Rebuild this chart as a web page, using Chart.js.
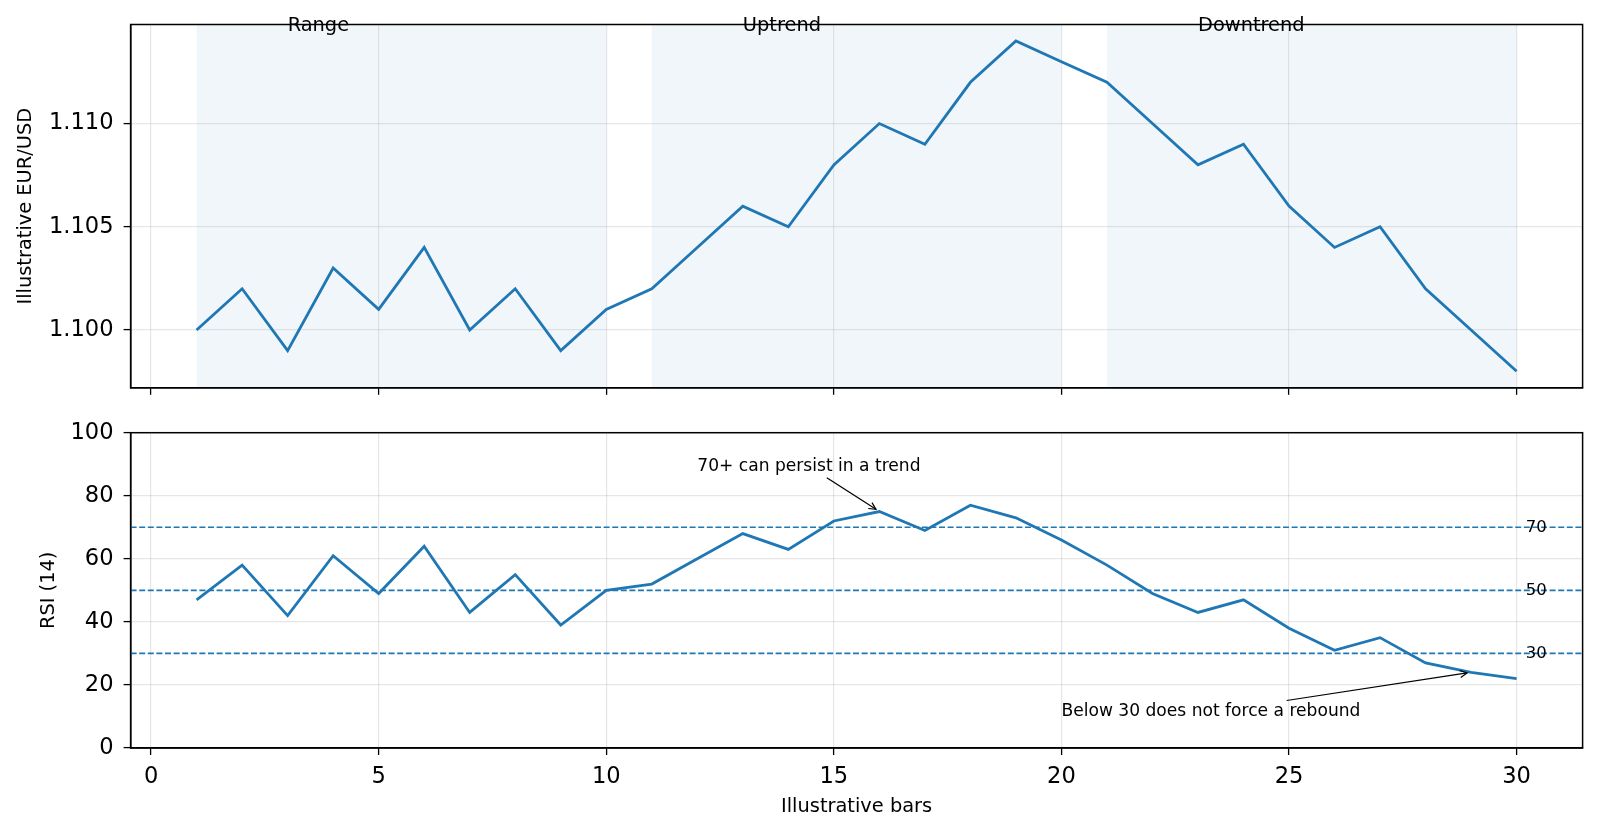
<!DOCTYPE html>
<html>
<head>
<meta charset="utf-8">
<script src="https://cdn.jsdelivr.net/npm/chart.js@4.4.1/dist/chart.umd.min.js"></script>
<style>
  html, body { margin: 0; padding: 0; background: #fff; }
  #wrap { position: relative; width: 1600px; height: 834px; }
  .panel { position: absolute; left: 0; width: 1600px; }
  #price-panel { top: 0; height: 414px; }
  #rsi-panel { top: 414px; height: 420px; }
</style>
</head>
<body>
<div id="wrap">
  <div class="panel" id="price-panel"><canvas id="price-canvas"></canvas></div>
  <div class="panel" id="rsi-panel"><canvas id="rsi-canvas"></canvas></div>
</div>
<script>
// dados ilustrativos
const BARS = [1, 2, 3, 4, 5, 6, 7, 8, 9, 10, 11, 12, 13, 14, 15, 16, 17, 18, 19, 20, 21, 22, 23, 24, 25, 26, 27, 28, 29, 30];
const PRICE = [1.100, 1.102, 1.099, 1.103, 1.101, 1.104, 1.100, 1.102, 1.099, 1.101,
               1.102, 1.104, 1.106, 1.105, 1.108, 1.110, 1.109, 1.112, 1.114, 1.113,
               1.112, 1.110, 1.108, 1.109, 1.106, 1.104, 1.105, 1.102, 1.100, 1.098];
const RSI = [47, 58, 42, 61, 49, 64, 43, 55, 39, 50,
             52, 60, 68, 63, 72, 75, 69, 77, 73, 66,
             58, 49, 43, 47, 38, 31, 35, 27, 24, 22];

const REGIME_LABELS = ['Range', 'Uptrend', 'Downtrend'];
const REGIME_START = [1, 11, 21];
const REGIME_END = [10, 20, 30];

const RSI_LEVELS = [70, 50, 30];
const X_TICKS = [0, 5, 10, 15, 20, 25, 30];
const PRICE_TICKS = [1.100, 1.105, 1.110];
const RSI_TICKS = [0, 20, 40, 60, 80, 100];

const NOTES = ['70+ can persist in a trend', 'Below 30 does not force a rebound'];
const NOTE_XY = [[16, 75], [29, 24]];
const NOTE_TEXT_XY = [[12, 88], [20, 10]];

const BLUE = '#1f77b4';
const FONT = '"DejaVu Sans", sans-serif';
const GRID = 'rgba(176,176,176,0.32)';
const AXIS_W = 130.6;
const TICK_FS = 22.6;
const LABEL_FS = 19.4;

Chart.defaults.font.family = FONT;
Chart.defaults.color = '#000';

// margens de 5% como no matplotlib
function comMargem(vals) {
  const lo = Math.min(...vals), hi = Math.max(...vals);
  const pad = (hi - lo) * 0.05;
  return [lo - pad, hi + pad];
}
const [X_MIN, X_MAX] = comMargem(BARS);
const [P_MIN, P_MAX] = comMargem(PRICE);

// zera o padding que os rotulos pedem, a area do grafico fica so com layout.padding
function semPadding(s) {
  s.paddingTop = 0; s.paddingBottom = 0; s.paddingLeft = 0; s.paddingRight = 0;
}

function eixoX(hideLabels, altura) {
  return {
    type: 'linear', min: X_MIN, max: X_MAX,
    afterBuildTicks: s => { s.ticks = X_TICKS.map(v => ({ value: v })); },
    afterFit: s => { s.height = altura; semPadding(s); },
    grid: { color: GRID, lineWidth: 1.2, drawTicks: true, tickLength: 7, tickColor: '#000', tickWidth: 1.3 },
    border: { display: true, color: '#000', width: 1.5 },
    ticks: { display: !hideLabels, font: { size: TICK_FS }, padding: 9, maxRotation: 0 }
  };
}

function eixoY(min, max, valores, fmt, titulo, tituloPad) {
  return {
    type: 'linear', min, max,
    afterBuildTicks: s => { s.ticks = valores.map(v => ({ value: v })); },
    afterFit: s => { s.width = AXIS_W; semPadding(s); },
    grid: { color: GRID, lineWidth: 1.2, tickLength: 7, tickColor: '#000', tickWidth: 1.3 },
    border: { display: true, color: '#000', width: 1.5 },
    ticks: { font: { size: TICK_FS }, padding: 10, callback: fmt },
    title: { display: true, text: titulo, font: { size: LABEL_FS }, padding: { top: tituloPad, bottom: 0 } }
  };
}

const framePlugin = {
  id: 'frame',
  afterDatasetsDraw(chart) {
    const { ctx, chartArea: a } = chart;
    ctx.save();
    ctx.strokeStyle = '#000';
    ctx.lineWidth = 1.5;
    ctx.strokeRect(a.left, a.top, a.right - a.left, a.bottom - a.top);
    ctx.restore();
  }
};

const regimesPlugin = {
  id: 'regimes',
  beforeDraw(chart) {
    const { ctx, chartArea: a, scales: { x } } = chart;
    ctx.save();
    ctx.fillStyle = 'rgba(31,119,180,0.065)';
    REGIME_START.forEach((ini, i) => {
      const x0 = x.getPixelForValue(ini), x1 = x.getPixelForValue(REGIME_END[i]);
      ctx.fillRect(x0, a.top, x1 - x0, a.bottom - a.top);
    });
    ctx.restore();
  },
  afterDraw(chart) {
    const { ctx, chartArea: a, scales: { x } } = chart;
    ctx.save();
    ctx.font = LABEL_FS + 'px ' + FONT;
    ctx.fillStyle = '#000';
    ctx.textBaseline = 'alphabetic';
    ctx.textAlign = 'left';
    REGIME_START.forEach((ini, i) => {
      ctx.fillText(REGIME_LABELS[i], x.getPixelForValue(ini + 2), a.top + 6.5);
    });
    ctx.restore();
  }
};

function seta(ctx, x0, y0, x1, y1) {
  const ang = Math.atan2(y1 - y0, x1 - x0);
  const hl = 7, hw = 3.5;
  ctx.beginPath(); ctx.moveTo(x0, y0); ctx.lineTo(x1, y1); ctx.stroke();
  ctx.beginPath();
  ctx.moveTo(x1 - hl * Math.cos(ang) + hw * Math.sin(ang), y1 - hl * Math.sin(ang) - hw * Math.cos(ang));
  ctx.lineTo(x1, y1);
  ctx.lineTo(x1 - hl * Math.cos(ang) - hw * Math.sin(ang), y1 - hl * Math.sin(ang) + hw * Math.cos(ang));
  ctx.stroke();
}

const niveisPlugin = {
  id: 'niveis',
  beforeDatasetsDraw(chart) {
    const { ctx, chartArea: a, scales: { y } } = chart;
    ctx.save();
    ctx.strokeStyle = BLUE;
    ctx.lineWidth = 1.6;
    ctx.setLineDash([6, 2.6]);
    RSI_LEVELS.forEach(v => {
      const py = y.getPixelForValue(v);
      ctx.beginPath(); ctx.moveTo(a.left, py); ctx.lineTo(a.right, py); ctx.stroke();
    });
    ctx.restore();
  },
  afterDraw(chart) {
    const { ctx, scales: { x, y } } = chart;
    ctx.save();
    ctx.fillStyle = '#000';
    ctx.font = '16.5px ' + FONT;
    ctx.textAlign = 'left';
    ctx.textBaseline = 'middle';
    RSI_LEVELS.forEach(v => ctx.fillText(String(v), x.getPixelForValue(30.2), y.getPixelForValue(v)));

    // anotacoes com seta
    const fs = 17.1;
    ctx.font = fs + 'px ' + FONT;
    ctx.textBaseline = 'alphabetic';
    ctx.strokeStyle = '#000';
    ctx.lineWidth = 1.2;
    NOTES.forEach((txt, i) => {
      const tx = x.getPixelForValue(NOTE_TEXT_XY[i][0]);
      const ty = y.getPixelForValue(NOTE_TEXT_XY[i][1]);
      ctx.fillText(txt, tx, ty);
      const w = ctx.measureText(txt).width;
      const pad = 3;
      const left = tx - pad, right = tx + w + pad;
      const top = ty - 0.76 * fs - pad, bottom = ty + 0.24 * fs + pad;
      const cx = (left + right) / 2, cy = (top + bottom) / 2;
      const ex = x.getPixelForValue(NOTE_XY[i][0]), ey = y.getPixelForValue(NOTE_XY[i][1]);
      const dx = ex - cx, dy = ey - cy;
      const t = Math.min((right - left) / 2 / Math.abs(dx || 1e-9), (bottom - top) / 2 / Math.abs(dy || 1e-9));
      const sx = cx + dx * t, sy = cy + dy * t;
      const len = Math.hypot(ex - sx, ey - sy);
      const fx = ex - (ex - sx) / len * 4, fy = ey - (ey - sy) / len * 4;
      seta(ctx, sx, sy, fx, fy);
    });
    ctx.restore();
  }
};

const baseLinha = {
  borderColor: BLUE, borderWidth: 2.8, pointRadius: 0, tension: 0, fill: false
};

new Chart(document.getElementById('price-canvas'), {
  type: 'line',
  data: {
    datasets: [{ ...baseLinha, label: 'EUR/USD', data: BARS.map((b, i) => ({ x: b, y: PRICE[i] })) }]
  },
  options: {
    responsive: true, maintainAspectRatio: false, animation: false,
    layout: { padding: { top: 24.5, right: 17.4, left: 0, bottom: 0 } },
    plugins: { legend: { display: false }, tooltip: { enabled: false } },
    scales: {
      x: eixoX(true, 26.2),
      y: eixoY(P_MIN, P_MAX, PRICE_TICKS, v => Number(v).toFixed(3), 'Illustrative EUR/USD', 14.5)
    }
  },
  plugins: [regimesPlugin, framePlugin]
});

new Chart(document.getElementById('rsi-canvas'), {
  type: 'line',
  data: {
    datasets: [{ ...baseLinha, label: 'RSI (14)', data: BARS.map((b, i) => ({ x: b, y: RSI[i] })) }]
  },
  options: {
    responsive: true, maintainAspectRatio: false, animation: false,
    layout: { padding: { top: 18.7, right: 17.4, left: 0, bottom: 0 } },
    plugins: { legend: { display: false }, tooltip: { enabled: false } },
    scales: {
      x: {
        ...eixoX(false, 86),
        title: { display: true, text: 'Illustrative bars', font: { size: LABEL_FS }, padding: { top: 0, bottom: 15.5 } }
      },
      y: eixoY(0, 100, RSI_TICKS, v => v, 'RSI (14)', 37.5)
    }
  },
  plugins: [niveisPlugin, framePlugin]
});
</script>
</body>
</html>
